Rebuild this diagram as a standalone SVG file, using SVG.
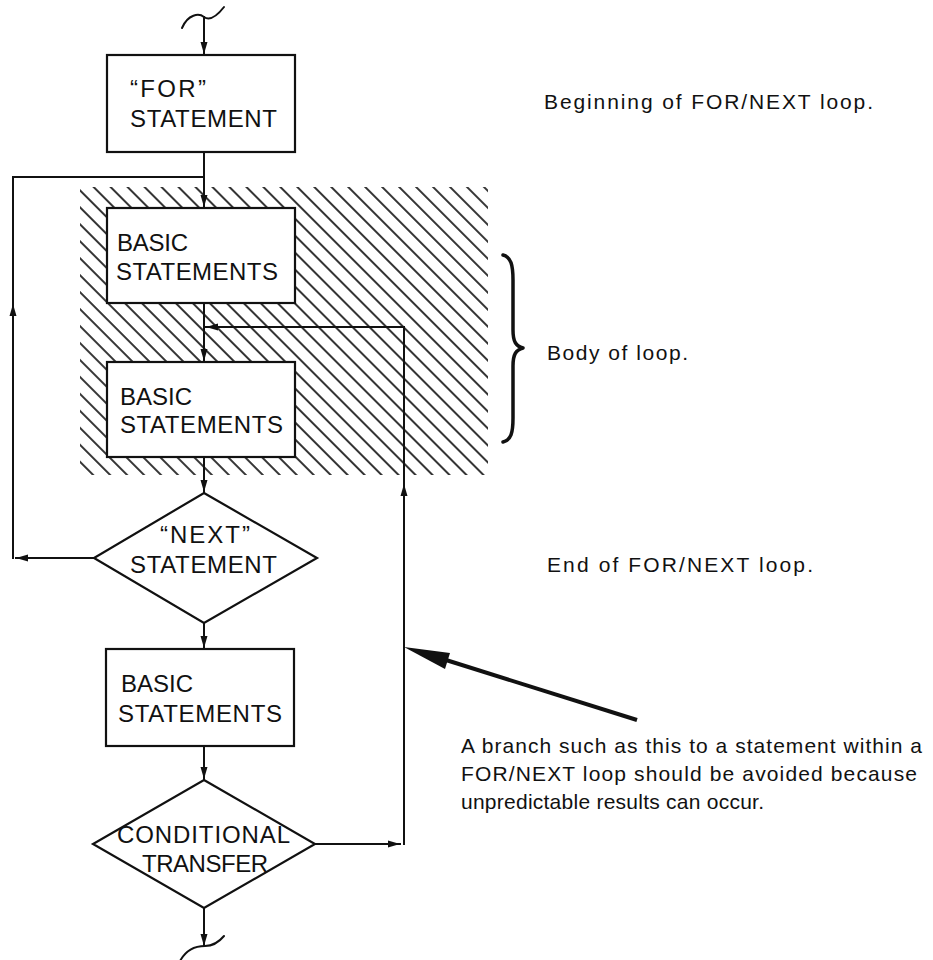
<svg xmlns="http://www.w3.org/2000/svg" width="933" height="960" viewBox="0 0 933 960">
<style>
  .box { fill: #fff; stroke: #111; stroke-width: 2.2; }
  .ln { fill: none; stroke: #111; stroke-width: 2; stroke-linecap: square; }
  .lbl { font-family: "Liberation Sans", Arial, sans-serif; font-size: 24px; fill: #111; }
  .note { font-family: "Liberation Sans", Arial, sans-serif; font-size: 21px; fill: #111; }
</style>
<defs>
  <pattern id="hatch" width="12" height="12" patternUnits="userSpaceOnUse" patternTransform="rotate(-45)">
    <line x1="6" y1="0" x2="6" y2="12" stroke="#111" stroke-width="1.7"/>
  </pattern>
  <marker id="ah" markerWidth="14" markerHeight="10" refX="12" refY="4" orient="auto" markerUnits="userSpaceOnUse">
    <path d="M0,0.5 L12,4 L0,7.5 Z" fill="#111"/>
  </marker>
</defs>
<rect width="933" height="960" fill="#fff"/>

<g id="body-hatch">
  <rect x="80" y="187" width="408" height="288" fill="url(#hatch)"/>
</g>

<g id="connectors">
  <path class="ln" d="M182,28 C188,14 199,13 204,17 C210,21 217,16 224,7" style="stroke-linecap:round"/>
  <path class="ln" d="M204,17 V54" marker-end="url(#ah)"/>
  <path class="ln" d="M204,152 V207" marker-end="url(#ah)"/>
  <path class="ln" d="M94,558 H16" marker-end="url(#ah)"/>
  <path class="ln" d="M13,558 V304" marker-end="url(#ah)"/>
  <path class="ln" d="M13,304 V177 H204"/>
  <path class="ln" d="M204,303 V361" marker-end="url(#ah)"/>
  <path class="ln" d="M315,844 H400" marker-end="url(#ah)"/>
  <path class="ln" d="M404,844 V484" marker-end="url(#ah)"/>
  <path class="ln" d="M404,484 V327 H206" marker-end="url(#ah)"/>
  <path class="ln" d="M204,457 V492" marker-end="url(#ah)"/>
  <path class="ln" d="M204,623 V648" marker-end="url(#ah)"/>
  <path class="ln" d="M204,746 V779" marker-end="url(#ah)"/>
  <path class="ln" d="M204,908 V946" marker-end="url(#ah)"/>
  <path class="ln" d="M180,961 C186,950 196,946 205,946 C213,946 219,942 224,936" style="stroke-linecap:round"/>
  <line x1="637" y1="720" x2="446" y2="660" stroke="#111" stroke-width="4"/>
  <polygon points="404,647 450,653 445,669" fill="#111"/>
</g>

<g id="for-statement">
  <rect class="box" x="107" y="55" width="188" height="97"/>
  <text class="lbl" x="130" y="97" textLength="76">“FOR”</text>
  <text class="lbl" x="130" y="127" textLength="147">STATEMENT</text>
</g>

<g id="basic-1">
  <rect class="box" x="107" y="208" width="188" height="95"/>
  <text class="lbl" x="117" y="251" textLength="71">BASIC</text>
  <text class="lbl" x="116" y="280" textLength="162">STATEMENTS</text>
</g>

<g id="basic-2">
  <rect class="box" x="107" y="362" width="188" height="95"/>
  <text class="lbl" x="120" y="405" textLength="72">BASIC</text>
  <text class="lbl" x="120" y="433" textLength="163">STATEMENTS</text>
</g>

<g id="next-statement">
  <polygon class="box" points="204,493 317,558 204,623 94,558"/>
  <text class="lbl" x="160" y="543" textLength="90">“NEXT”</text>
  <text class="lbl" x="130" y="573" textLength="147">STATEMENT</text>
</g>

<g id="basic-3">
  <rect class="box" x="106" y="649" width="188" height="97"/>
  <text class="lbl" x="121" y="692" textLength="72">BASIC</text>
  <text class="lbl" x="118" y="722" textLength="164">STATEMENTS</text>
</g>

<g id="conditional-transfer">
  <polygon class="box" points="204,780 315,844 204,908 93,844"/>
  <text class="lbl" x="117" y="843" textLength="173">CONDITIONAL</text>
  <text class="lbl" x="142" y="872" textLength="126">TRANSFER</text>
</g>

<g id="brace">
  <path d="M503,255 C511,257 513,265 513,280 L513,330 C513,342 516,346 523,348 C516,350 513,354 513,366 L513,418 C513,433 511,440 503,442" fill="none" stroke="#111" stroke-width="3.5" stroke-linecap="round" stroke-linejoin="round"/>
</g>

<g id="notes">
  <text class="note" x="544" y="109" textLength="329">Beginning of FOR/NEXT loop.</text>
  <text class="note" x="547" y="360" textLength="141">Body of loop.</text>
  <text class="note" x="547" y="572" textLength="266">End of FOR/NEXT loop.</text>
  <text class="note" x="461" y="753" textLength="461">A branch such as this to a statement within a</text>
  <text class="note" x="461" y="781" textLength="456">FOR/NEXT loop should be avoided because</text>
  <text class="note" x="461" y="809" textLength="303">unpredictable results can occur.</text>
</g>
</svg>
